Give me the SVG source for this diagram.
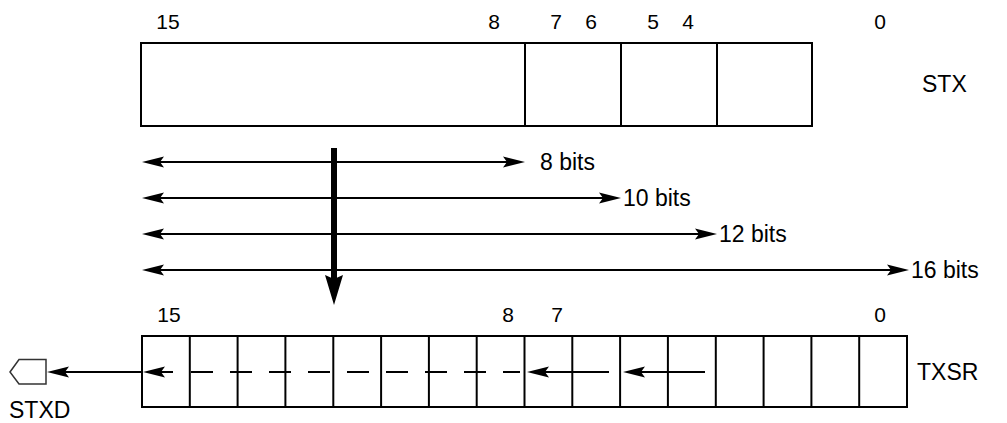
<svg xmlns="http://www.w3.org/2000/svg" width="1007" height="423" viewBox="0 0 1007 423">
<style>
text{font-family:"Liberation Sans",Arial,sans-serif;fill:#000}
.d{font-size:21px;text-anchor:middle}
.l{font-size:23px}
.box{fill:#fff;stroke:#000;stroke-width:2}
.ln{stroke:#000;stroke-width:2;fill:none}
.arr{stroke:#000;stroke-width:2;fill:none;marker-end:url(#ah)}
.dbl{stroke:#000;stroke-width:2;fill:none;marker-start:url(#ah);marker-end:url(#ah)}
</style>
<defs>
<marker id="ah" viewBox="0 -6 22 12" refX="6" refY="0" markerWidth="22" markerHeight="12" markerUnits="userSpaceOnUse" orient="auto-start-reverse">
<path d="M0,-5.5 L22,0 L0,5.5 L4,0 z" fill="#000"/>
</marker>
<marker id="ahb" viewBox="0 -9 30 18" refX="8" refY="0" markerWidth="30" markerHeight="18" markerUnits="userSpaceOnUse" orient="auto">
<path d="M0,-9 L30,0 L0,9 L4,0 z" fill="#000"/>
</marker>
</defs>

<g id="stx">
<rect class="box" x="141" y="43" width="671" height="83"/>
<line class="ln" x1="525" y1="43" x2="525" y2="126"/>
<line class="ln" x1="621" y1="43" x2="621" y2="126"/>
<line class="ln" x1="717" y1="43" x2="717" y2="126"/>
<text class="d" x="168" y="29">15</text>
<text class="d" x="494" y="29">8</text>
<text class="d" x="556" y="29">7</text>
<text class="d" x="591" y="29">6</text>
<text class="d" x="653" y="29">5</text>
<text class="d" x="688" y="29">4</text>
<text class="d" x="880" y="29">0</text>
<text class="l" x="922" y="92">STX</text>
</g>

<g id="txsr">
<rect class="box" x="142" y="336" width="765" height="71"/>
<g class="ln">
<line x1="189.8" y1="336" x2="189.8" y2="407"/>
<line x1="237.6" y1="336" x2="237.6" y2="407"/>
<line x1="285.4" y1="336" x2="285.4" y2="407"/>
<line x1="333.3" y1="336" x2="333.3" y2="407"/>
<line x1="381.1" y1="336" x2="381.1" y2="407"/>
<line x1="428.9" y1="336" x2="428.9" y2="407"/>
<line x1="476.7" y1="336" x2="476.7" y2="407"/>
<line x1="524.5" y1="336" x2="524.5" y2="407"/>
<line x1="572.3" y1="336" x2="572.3" y2="407"/>
<line x1="620.1" y1="336" x2="620.1" y2="407"/>
<line x1="667.9" y1="336" x2="667.9" y2="407"/>
<line x1="715.8" y1="336" x2="715.8" y2="407"/>
<line x1="763.6" y1="336" x2="763.6" y2="407"/>
<line x1="811.4" y1="336" x2="811.4" y2="407"/>
<line x1="859.2" y1="336" x2="859.2" y2="407"/>
</g>
<text class="d" x="169" y="322">15</text>
<text class="d" x="508" y="322">8</text>
<text class="d" x="557" y="322">7</text>
<text class="d" x="880" y="322">0</text>
<text class="l" x="917" y="380">TXSR</text>
</g>

<g id="stxd">
<polygon points="10,372 19,359.5 46,359.5 46,384 19,384" fill="#fff" stroke="#333" stroke-width="1.5"/>
<text class="l" x="9" y="418">STXD</text>
</g>

<g id="connectors">
<line class="dbl" x1="158" y1="162" x2="509" y2="162"/>
<line class="dbl" x1="158" y1="198" x2="605" y2="198"/>
<line class="dbl" x1="158" y1="234" x2="701" y2="234"/>
<line class="dbl" x1="158" y1="270" x2="893" y2="270"/>
<line x1="334" y1="148" x2="334" y2="283" stroke="#000" stroke-width="6" marker-end="url(#ahb)"/>
<line class="arr" x1="142" y1="372" x2="63" y2="372"/>
<line class="arr" x1="173" y1="372" x2="159" y2="372"/>
<line class="ln" x1="191" y1="372" x2="520" y2="372" stroke-dasharray="22 17"/>
<line class="arr" x1="609" y1="372" x2="543" y2="372"/>
<line class="arr" x1="705" y1="372" x2="639" y2="372"/>
</g>
<g id="labels">
<text class="l" x="540" y="170">8 bits</text>
<text class="l" x="623" y="206">10 bits</text>
<text class="l" x="719" y="242">12 bits</text>
<text class="l" x="911" y="278">16 bits</text>
</g>
</svg>
